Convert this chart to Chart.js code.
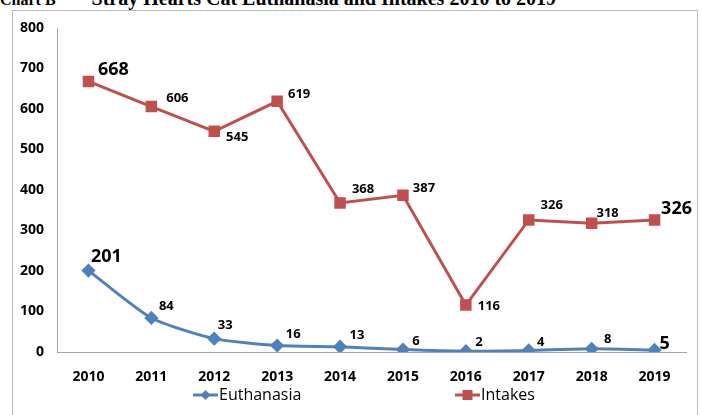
<!DOCTYPE html>
<html>
<head>
<meta charset="utf-8">
<script src="https://cdn.jsdelivr.net/npm/chart.js@4"></script>
<style>
  body { margin: 0; width: 702px; height: 415px; overflow: hidden; background: #fff; position: relative; }
  #title { position: absolute; left: 0; top: -13px; font-family: 'Liberation Serif', serif; font-weight: bold; white-space: nowrap; }
  #title .tag { font-size: 16px; }
  #title .main { font-size: 20px; margin-left: 36px; }
  #frame { position: absolute; left: 12px; top: 10px; width: 686px; height: 410px; border: 1px solid #b8b8b8; box-sizing: border-box; }
  #chart_wrap { position: absolute; left: 0; top: 0; width: 702px; height: 415px; }
</style>
</head>
<body>
<div id="title"><span class="tag">Chart B</span><span class="main">Stray Hearts Cat Euthanasia and Intakes 2010 to 2019</span></div>
<div id="frame"></div>
<div id="chart_wrap"><canvas id="graph_chart"></canvas></div>
<script>
const years = ['2010', '2011', '2012', '2013', '2014', '2015', '2016', '2017', '2018', '2019'];
const euthanasia = [201, 84, 33, 16, 13, 6, 2, 4, 8, 5];
const intakes = [668, 606, 545, 619, 368, 387, 116, 326, 318, 326];
const yTicks = [0, 100, 200, 300, 400, 500, 600, 700, 800];

const blue = '#4f81bd';
const red = '#c0504d';
const fontFamily = "'Open Sans', sans-serif";

// label offsets from the point (dx, dy, big) per dataset: 0 = Intakes, 1 = Euthanasia
const labelPlace = {
    0: [[25, -12, 1], [26, -8, 0], [23, 6, 0], [22, -7, 0], [23, -14, 0], [21, -7, 0], [23, 1, 0], [23, -15, 0], [16, -10, 0], [22, -11, 1]],
    1: [[18, -14, 1], [15, -12, 0], [11, -13, 0], [16, -11, 0], [17, -11, 0], [13, -8, 0], [13, -9, 0], [12, -8, 0], [16, -9, 0], [10, -6, 1]]
};

const dataLabels = {
    id: 'dataLabels',
    afterDatasetsDraw(chart) {
        const ctx = chart.ctx;
        ctx.save();
        ctx.fillStyle = '#000';
        ctx.textAlign = 'center';
        ctx.textBaseline = 'middle';
        chart.data.datasets.forEach((ds, i) => {
            chart.getDatasetMeta(i).data.forEach((pt, j) => {
                const p = labelPlace[i][j];
                ctx.font = (p[2] ? 'bold 18px ' : 'bold 13px ') + fontFamily;
                ctx.fillText(ds.data[j], pt.x + p[0], pt.y + p[1]);
            });
        });
        ctx.restore();
    }
};

function drawMarker(ctx, style, x, y, color) {
    ctx.fillStyle = color;
    if (style === 'rect') {
        ctx.fillRect(x - 5, y - 5, 10, 10);
    } else {
        ctx.beginPath();
        ctx.moveTo(x, y - 5);
        ctx.lineTo(x + 5, y);
        ctx.lineTo(x, y + 5);
        ctx.lineTo(x - 5, y);
        ctx.closePath();
        ctx.fill();
    }
}

const bottomLegend = {
    id: 'bottomLegend',
    afterDraw(chart) {
        const ctx = chart.ctx;
        const items = [
            {x: 193, label: 'Euthanasia', color: blue, style: 'rectRot'},
            {x: 455, label: 'Intakes', color: red, style: 'rect'}
        ];
        const y = 395;
        ctx.save();
        items.forEach(it => {
            ctx.strokeStyle = it.color;
            ctx.lineWidth = 3;
            ctx.beginPath();
            ctx.moveTo(it.x, y);
            ctx.lineTo(it.x + 25, y);
            ctx.stroke();
            drawMarker(ctx, it.style, it.x + 12.5, y, it.color);
            ctx.fillStyle = '#000';
            ctx.font = '16px ' + fontFamily;
            ctx.textAlign = 'left';
            ctx.textBaseline = 'middle';
            ctx.fillText(it.label, it.x + 26, y);
        });
        ctx.restore();
    }
};

new Chart(document.getElementById('graph_chart'), {
    type: 'line',
    data: {
        labels: years,
        datasets: [
            {label: 'Intakes', data: intakes, borderColor: red, backgroundColor: red, borderWidth: 3,
             pointStyle: 'rect', pointRadius: 6, pointHoverRadius: 6, tension: 0},
            {label: 'Euthanasia', data: euthanasia, borderColor: blue, backgroundColor: blue, borderWidth: 3,
             pointStyle: 'rectRot', pointRadius: 5, pointHoverRadius: 5, tension: 0.2}
        ]
    },
    options: {
        responsive: true,
        maintainAspectRatio: false,
        animation: false,
        layout: {padding: {top: 28, right: 16, left: 0, bottom: 0}},
        plugins: {legend: {display: false}, tooltip: {enabled: false}},
        scales: {
            x: {
                offset: true,
                grid: {display: false, drawTicks: false},
                border: {color: '#a6a6a6', width: 1},
                ticks: {color: '#000', padding: 17, font: {family: fontFamily, size: 14, weight: 'bold'}},
                afterFit(scale) { scale.height = 63; }
            },
            y: {
                min: 0, max: 800,
                grid: {display: false, drawTicks: false},
                border: {color: '#a6a6a6', width: 1},
                afterBuildTicks(scale) { scale.ticks = yTicks.map(v => ({value: v})); },
                ticks: {color: '#000', padding: 13, font: {family: fontFamily, size: 14, weight: 'bold'}},
                afterFit(scale) { scale.width = 57; }
            }
        }
    },
    plugins: [dataLabels, bottomLegend]
});
</script>
</body>
</html>
